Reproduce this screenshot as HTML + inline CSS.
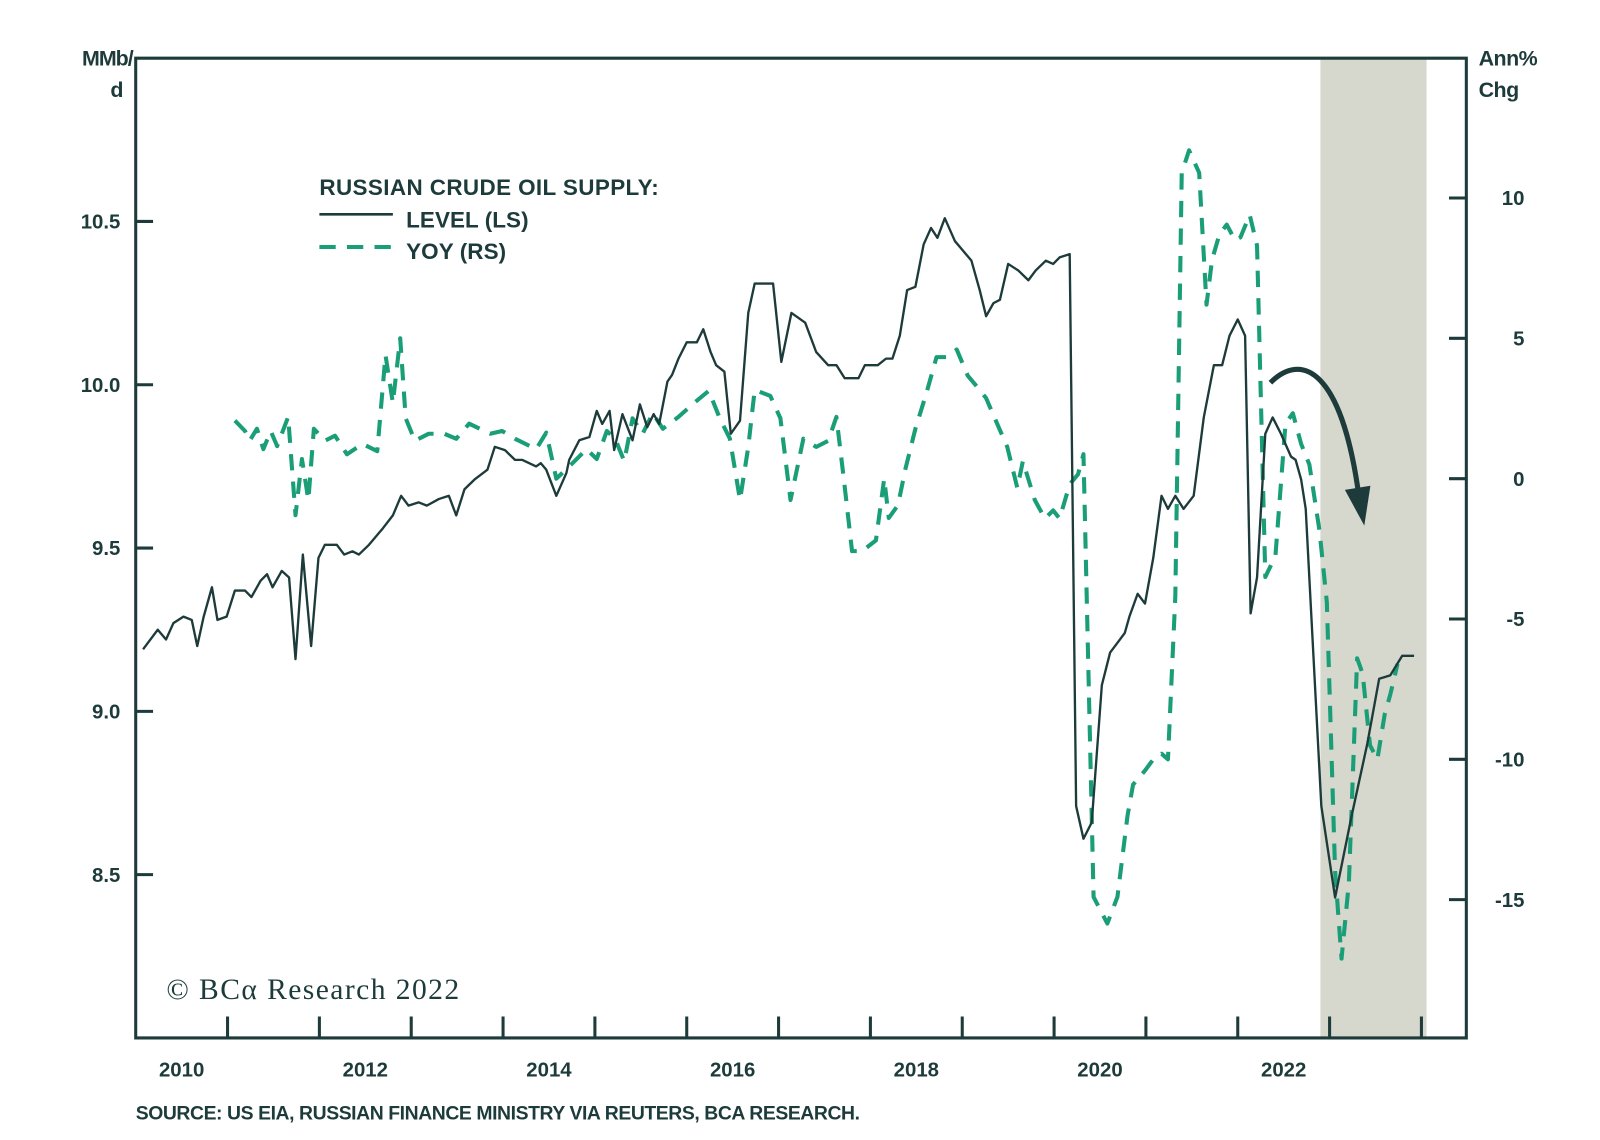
<!DOCTYPE html>
<html><head><meta charset="utf-8"><style>
html,body{margin:0;padding:0;background:#fff;}
svg{display:block;}
text{font-family:"Liberation Sans",sans-serif;fill:#1d3b3a;}
</style></head><body>
<svg id="chart" width="1600" height="1140" viewBox="0 0 1568 1117" preserveAspectRatio="none" xmlns="http://www.w3.org/2000/svg">
<rect x="1294" y="57" width="104" height="960" fill="#d6d7cd"/>
<g id="marks"></g>
<g fill="none" stroke="#1d3b3a" stroke-width="3">
<path d="M133,57 H1437 V1017 H133 Z"/>
</g>
<g id="ticks"></g>
<text x="130" y="64" font-size="21" font-weight="bold" text-anchor="end" letter-spacing="-1">MMb/</text>
<text x="121" y="95" font-size="21" font-weight="bold" text-anchor="end">d</text>
<text x="1449" y="64" font-size="21" font-weight="bold" letter-spacing="-0.5">Ann%</text>
<text x="1449" y="95" font-size="21" font-weight="bold" letter-spacing="-0.5">Chg</text>
<g>
<text x="313" y="191" font-size="22" letter-spacing="-0.6" font-weight="bold" textLength="332">RUSSIAN CRUDE OIL SUPPLY:</text>
<line x1="313" y1="210" x2="385" y2="210" stroke="#1d3b3a" stroke-width="2.5"/>
<text x="398" y="223" font-size="22" font-weight="bold" textLength="120">LEVEL (LS)</text>
<line x1="313" y1="242" x2="385" y2="242" stroke="#1a9e77" stroke-width="4" stroke-dasharray="16,11"/>
<text x="398" y="254" font-size="22" font-weight="bold" textLength="98">YOY (RS)</text>
</g>
<path d="M1245,375 C1275,345 1315,360 1332,488" fill="none" stroke="#1d3b3a" stroke-width="5"/>
<polygon points="1318,480 1343,476 1337,515" fill="#1d3b3a"/>
<text x="163" y="979" font-size="29" textLength="287" style="font-family:'Liberation Serif',serif">© BCα Research 2022</text>
<text x="133" y="1097" font-size="19" font-weight="bold" letter-spacing="-0.8" textLength="709">SOURCE: US EIA, RUSSIAN FINANCE MINISTRY VIA REUTERS, BCA RESEARCH.</text>
</svg>
<script>
const leftTicks=[8.5,9.0,9.5,10.0,10.5];
const rightTicks=[-15,-10,-5,0,5,10];
const yearLabels=[2010,2012,2014,2016,2018,2020,2022];
const yearTicks=[2011,2012,2013,2014,2015,2016,2017,2018,2019,2020,2021,2022,2023,2024];
const levelDates=[2010.08,2010.24,2010.33,2010.41,2010.52,2010.61,2010.67,2010.74,2010.83,2010.89,2010.99,2011.08,2011.19,2011.26,2011.36,2011.43,2011.49,2011.59,2011.67,2011.74,2011.82,2011.91,2011.99,2012.06,2012.19,2012.27,2012.36,2012.43,2012.54,2012.69,2012.8,2012.89,2012.97,2013.08,2013.17,2013.3,2013.41,2013.49,2013.58,2013.69,2013.83,2013.91,2014.02,2014.13,2014.21,2014.36,2014.41,2014.47,2014.58,2014.69,2014.72,2014.83,2014.94,2015.02,2015.08,2015.16,2015.21,2015.3,2015.41,2015.49,2015.57,2015.64,2015.7,2015.79,2015.84,2015.91,2016.0,2016.11,2016.18,2016.26,2016.32,2016.41,2016.48,2016.58,2016.67,2016.74,2016.83,2016.94,2017.03,2017.14,2017.29,2017.41,2017.54,2017.63,2017.72,2017.87,2017.94,2018.08,2018.17,2018.24,2018.32,2018.4,2018.49,2018.58,2018.66,2018.73,2018.81,2018.92,2019.01,2019.1,2019.19,2019.26,2019.34,2019.41,2019.5,2019.61,2019.72,2019.8,2019.91,2019.99,2020.06,2020.17,2020.24,2020.32,2020.41,2020.52,2020.61,2020.69,2020.77,2020.82,2020.91,2020.99,2021.08,2021.17,2021.24,2021.32,2021.41,2021.52,2021.63,2021.74,2021.83,2021.91,2022.0,2022.08,2022.14,2022.21,2022.3,2022.38,2022.47,2022.58,2022.63,2022.69,2022.74,2022.91,2023.06,2023.24,2023.41,2023.54,2023.66,2023.79,2023.92];
const levelValues=[9.19,9.25,9.22,9.27,9.29,9.28,9.20,9.29,9.38,9.28,9.29,9.37,9.37,9.35,9.40,9.42,9.38,9.43,9.41,9.16,9.48,9.20,9.47,9.51,9.51,9.48,9.49,9.48,9.51,9.56,9.60,9.66,9.63,9.64,9.63,9.65,9.66,9.60,9.68,9.71,9.74,9.81,9.80,9.77,9.77,9.75,9.76,9.74,9.66,9.73,9.77,9.83,9.84,9.92,9.88,9.92,9.80,9.91,9.83,9.94,9.87,9.91,9.88,10.01,10.03,10.08,10.13,10.13,10.17,10.10,10.06,10.04,9.85,9.89,10.22,10.31,10.31,10.31,10.07,10.22,10.19,10.10,10.06,10.06,10.02,10.02,10.06,10.06,10.08,10.08,10.15,10.29,10.30,10.43,10.48,10.45,10.51,10.44,10.41,10.38,10.29,10.21,10.25,10.26,10.37,10.35,10.32,10.35,10.38,10.37,10.39,10.40,8.71,8.61,8.66,9.08,9.18,9.21,9.24,9.29,9.36,9.33,9.47,9.66,9.62,9.66,9.62,9.66,9.90,10.06,10.06,10.15,10.20,10.15,9.30,9.41,9.85,9.90,9.85,9.78,9.77,9.71,9.62,8.71,8.43,8.68,8.90,9.10,9.11,9.17,9.17];
const yoyDates=[2011.08,2011.19,2011.24,2011.32,2011.39,2011.47,2011.54,2011.66,2011.74,2011.81,2011.88,2011.94,2012.06,2012.17,2012.3,2012.47,2012.63,2012.72,2012.8,2012.88,2012.94,2013.04,2013.19,2013.36,2013.49,2013.63,2013.86,2013.99,2014.13,2014.36,2014.47,2014.58,2014.74,2014.91,2015.02,2015.13,2015.22,2015.32,2015.41,2015.52,2015.63,2015.74,2015.91,2016.08,2016.24,2016.36,2016.47,2016.58,2016.67,2016.74,2016.91,2017.02,2017.13,2017.27,2017.41,2017.54,2017.63,2017.71,2017.8,2017.91,2018.06,2018.15,2018.2,2018.3,2018.38,2018.49,2018.61,2018.72,2018.83,2018.94,2019.06,2019.17,2019.26,2019.38,2019.49,2019.6,2019.66,2019.79,2019.9,2019.99,2020.06,2020.17,2020.26,2020.32,2020.43,2020.58,2020.69,2020.8,2020.86,2020.99,2021.08,2021.17,2021.24,2021.32,2021.39,2021.47,2021.58,2021.66,2021.72,2021.8,2021.88,2021.97,2022.03,2022.13,2022.21,2022.3,2022.41,2022.52,2022.6,2022.69,2022.78,2022.89,2022.97,2023.06,2023.13,2023.21,2023.3,2023.36,2023.44,2023.52,2023.6,2023.66,2023.74];
const yoyValues=[2.07,1.7,1.35,1.78,1.05,1.7,1.16,2.2,-1.3,0.7,-0.76,1.78,1.35,1.53,0.87,1.24,0.98,4.4,2.7,5.0,2.15,1.35,1.6,1.6,1.42,1.96,1.6,1.7,1.42,1.05,1.64,0,0.5,1.05,0.7,1.7,1.42,0.62,2.15,1.6,2.33,1.78,2.2,2.7,3.13,2.15,1.42,-0.76,1.13,3.16,2.95,2.15,-0.76,1.42,1.13,1.35,2.2,0,-2.58,-2.58,-2.2,0,-1.4,-0.95,0.33,1.78,3.05,4.33,4.33,4.6,3.67,3.24,2.87,1.96,1.13,-0.33,0.62,-0.76,-1.42,-1.13,-1.42,-0.2,0.15,0.87,-14.9,-15.85,-14.9,-12.0,-10.9,-10.4,-10.0,-9.8,-10.0,-4.2,10.9,11.7,10.9,6.2,7.8,8.7,9.05,8.5,8.6,9.4,8.3,-3.5,-2.76,1.96,2.33,1.24,0.5,-1.85,-4.4,-14.0,-17.1,-14.4,-6.4,-6.95,-9.5,-10.0,-8.4,-7.7,-6.6,-4.95,-1.85,4.87];
const NS="http://www.w3.org/2000/svg";
const X=t=>133+(t-2010)*90;
const YL=v=>377-(v-10)*320;
const YR=v=>469-v*27.5;
const marks=document.getElementById('marks'),ticks=document.getElementById('ticks');
function mk(tag,attrs,parent){const e=document.createElementNS(NS,tag);for(const k in attrs)e.setAttribute(k,attrs[k]);parent.appendChild(e);return e;}
let d=yoyDates.map((t,i)=>(i?'L':'M')+X(t).toFixed(1)+','+YR(yoyValues[i]).toFixed(1)).join(' ');
const yl=mk('path',{d:d,fill:'none',stroke:'#1a9e77','stroke-width':4,'stroke-dasharray':'16,11','stroke-linejoin':'round'},marks);


d=levelDates.map((t,i)=>(i?'L':'M')+X(t).toFixed(1)+','+YL(levelValues[i]).toFixed(1)).join(' ');
const ll=mk('path',{d:d,fill:'none',stroke:'#1d3b3a','stroke-width':2.3,'stroke-linejoin':'round'},marks);


leftTicks.forEach(v=>{const y=YL(v);
const l=mk('line',{x1:133,x2:150,y1:y,y2:y,stroke:'#1d3b3a','stroke-width':3},ticks);


const t=mk('text',{x:118,y:y+7,'font-size':20,'font-weight':'bold','text-anchor':'end'},ticks);t.textContent=v.toFixed(1);

});
rightTicks.forEach(v=>{const y=YR(v);
const l=mk('line',{x1:1420,x2:1437,y1:y,y2:y,stroke:'#1d3b3a','stroke-width':3},ticks);


const t=mk('text',{x:1494,y:y+7,'font-size':20,'font-weight':'bold','text-anchor':'end'},ticks);t.textContent=String(v);

});
yearTicks.forEach(yr=>{const x=X(yr);
const l=mk('line',{x1:x,x2:x,y1:996,y2:1017,stroke:'#1d3b3a','stroke-width':3},ticks);

});
yearLabels.forEach(yr=>{const t=mk('text',{x:X(yr+0.5),y:1055,'font-size':20,'font-weight':'bold','text-anchor':'middle'},ticks);t.textContent=String(yr);

});
</script>
</body></html>
